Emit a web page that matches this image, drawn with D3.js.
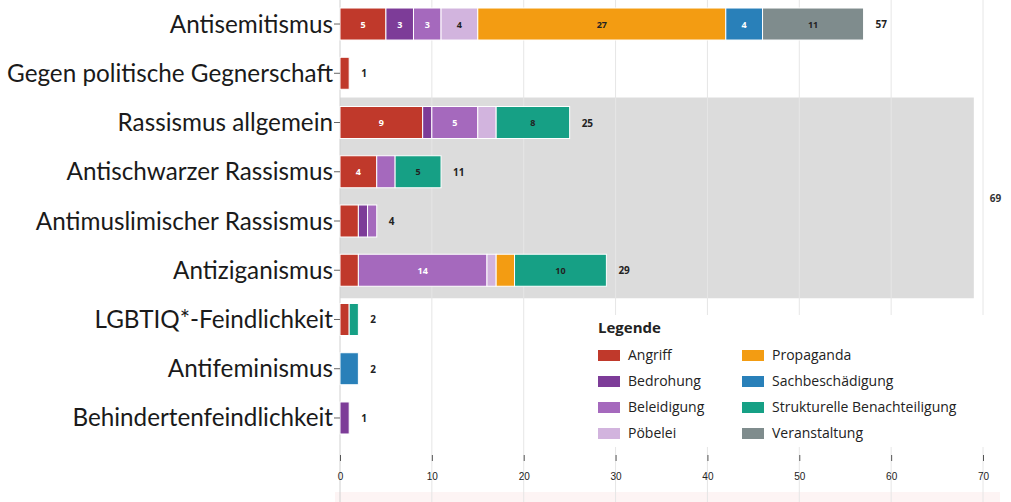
<!DOCTYPE html>
<html>
<head>
<meta charset="utf-8">
<script src="https://cdn.jsdelivr.net/npm/d3@7"></script>
<style>
  body { margin: 0; background: #fff; }
  svg { display: block; font-family: "Open Sans", sans-serif; }
</style>
</head>
<body>
<div id="chart"></div>
<script>
const width = 1011;
const height = 502;

const categories = [
    'Antisemitismus',
    'Gegen politische Gegnerschaft',
    'Rassismus allgemein',
    'Antischwarzer Rassismus',
    'Antimuslimischer Rassismus',
    'Antiziganismus',
    'LGBTIQ*-Feindlichkeit',
    'Antifeminismus',
    'Behindertenfeindlichkeit'
];
const types = ['Angriff', 'Bedrohung', 'Beleidigung', 'Pöbelei',
    'Propaganda', 'Sachbeschädigung', 'Strukturelle Benachteiligung', 'Veranstaltung'];
const colors = ['#c0392b', '#7d3c98', '#a569bd', '#d2b4de',
    '#f39c12', '#2980b9', '#16a085', '#7f8c8d'];

const angriff          = [5, 1, 9, 4, 2, 2, 1, 0, 0];
const bedrohung        = [3, 0, 1, 0, 1, 0, 0, 0, 1];
const beleidigung      = [3, 0, 5, 2, 1, 14, 0, 0, 0];
const poebelei         = [4, 0, 2, 0, 0, 1, 0, 0, 0];
const propaganda       = [27, 0, 0, 0, 0, 2, 0, 0, 0];
const sachbeschaedigung = [4, 0, 0, 0, 0, 0, 0, 2, 0];
const strukturelle     = [0, 0, 8, 5, 0, 10, 1, 0, 0];
const veranstaltung    = [11, 0, 0, 0, 0, 0, 0, 0, 0];

const rassismusGroup = ['Rassismus allgemein', 'Antischwarzer Rassismus',
    'Antimuslimischer Rassismus', 'Antiziganismus'];
const xTicks = [0, 10, 20, 30, 40, 50, 60, 70];

const seriesValues = [angriff, bedrohung, beleidigung, poebelei,
    propaganda, sachbeschaedigung, strukturelle, veranstaltung];

// table: one row per category
const rows = categories.map((c, i) => {
    const r = { category: c };
    types.forEach((t, j) => { r[t] = seriesValues[j][i]; });
    r.total = d3.sum(seriesValues, s => s[i]);
    return r;
});

const x = d3.scaleLinear().domain([0, 70]).range([340, 983]);
const y = d3.scaleBand().domain(categories)
    .range([-0.6, 442.6]).paddingInner(0.35).paddingOuter(0.175);
const color = d3.scaleOrdinal().domain(types).range(colors);

const svg = d3.select('#chart').append('svg')
    .attr('width', width)
    .attr('height', height);

// faint band under the axis
svg.append('rect')
    .attr('x', 335).attr('y', 492)
    .attr('width', 665).attr('height', 10)
    .attr('fill', '#fdf4f4');

// gray group background
const groupTotal = d3.sum(rows.filter(r => rassismusGroup.includes(r.category)), r => r.total);
const gTop = y(rassismusGroup[0]) - 9;
const gBottom = y(rassismusGroup[rassismusGroup.length - 1]) + y.bandwidth() + 12;
svg.append('rect')
    .attr('x', x(0))
    .attr('y', gTop)
    .attr('width', x(groupTotal) - x(0))
    .attr('height', gBottom - gTop)
    .attr('fill', '#dcdcdc');

// grid lines
svg.append('g')
    .selectAll('line')
    .data(xTicks)
    .join('line')
    .attr('x1', d => x(d)).attr('x2', d => x(d))
    .attr('y1', 0).attr('y2', height)
    .attr('stroke', d => d === 0 ? '#d0d0d0' : '#e6e6e6')
    .attr('stroke-width', 1);

svg.append('text')
    .attr('x', x(groupTotal) + 16)
    .attr('y', (gTop + gBottom) / 2 + 4)
    .attr('font-size', 10)
    .attr('font-weight', 'bold')
    .attr('fill', '#333')
    .text(groupTotal);

// stacked bars
const stack = d3.stack().keys(types)(rows);
const layer = svg.append('g')
    .selectAll('g')
    .data(stack)
    .join('g')
    .attr('fill', d => color(d.key));

layer.selectAll('rect')
    .data(d => d.filter(p => p[1] > p[0]))
    .join('rect')
    .attr('x', p => x(p[0]))
    .attr('y', p => y(p.data.category))
    .attr('width', p => x(p[1]) - x(p[0]))
    .attr('height', y.bandwidth())
    .attr('stroke', '#fff')
    .attr('stroke-width', 1);

const darkText = ['Propaganda', 'Strukturelle Benachteiligung', 'Veranstaltung', 'Pöbelei'];
layer.selectAll('text')
    .data(d => d.filter(p => p[1] - p[0] >= 3).map(p => ({ p, key: d.key })))
    .join('text')
    .attr('x', d => (x(d.p[0]) + x(d.p[1])) / 2)
    .attr('y', d => y(d.p.data.category) + y.bandwidth() / 2 + 3.5)
    .attr('text-anchor', 'middle')
    .attr('font-size', 9)
    .attr('font-weight', 'bold')
    .attr('fill', d => darkText.includes(d.key) ? '#222' : '#fff')
    .text(d => d.p[1] - d.p[0]);

// totals
svg.append('g')
    .selectAll('text')
    .data(rows)
    .join('text')
    .attr('x', d => x(d.total) + 12)
    .attr('y', d => y(d.category) + y.bandwidth() / 2 + 4)
    .attr('font-size', 10)
    .attr('font-weight', 'bold')
    .attr('fill', '#222')
    .text(d => d.total);

// category axis
const yAxis = svg.append('g')
    .attr('transform', `translate(${x(0)},0)`)
    .call(d3.axisLeft(y).tickSize(6).tickPadding(1));
yAxis.select('.domain').remove();
yAxis.selectAll('line').attr('stroke', '#666');
yAxis.selectAll('text')
    .attr('font-family', 'Lato, sans-serif')
    .attr('font-size', 25)
    .attr('dy', '0.35em')
    .attr('fill', '#1a1a1a');

// fit the longest label to the width seen in the picture
const longest = yAxis.selectAll('text').filter(d => d === 'Gegen politische Gegnerschaft').node();
const fs = 25 * 326 / longest.getComputedTextLength();
yAxis.selectAll('text').attr('font-size', fs);

// value axis
const xAxis = svg.append('g')
    .attr('transform', 'translate(0,455)')
    .call(d3.axisBottom(x).tickValues(xTicks).tickSize(6).tickPadding(12));
xAxis.select('.domain').remove();
xAxis.selectAll('line').attr('stroke', '#555');
xAxis.selectAll('text')
    .attr('font-size', 10)
    .attr('fill', '#222');

// legend
const legend = svg.append('g').attr('transform', 'translate(590,315)');
legend.append('rect')
    .attr('width', 420).attr('height', 132)
    .attr('fill', '#fff');
legend.append('text')
    .attr('x', 8).attr('y', 18)
    .attr('font-size', 15)
    .attr('font-weight', 'bold')
    .attr('fill', '#222')
    .text('Legende');

const item = legend.selectAll('.item')
    .data(types)
    .join('g')
    .attr('class', 'item')
    .attr('transform', (d, i) => `translate(${i < 4 ? 8 : 152},${43 + (i % 4) * 26})`);
item.append('rect')
    .attr('width', 22).attr('height', 11)
    .attr('y', -8)
    .attr('fill', d => color(d));
item.append('text')
    .attr('x', 30).attr('y', 2)
    .attr('font-size', 14)
    .attr('fill', '#222')
    .text(d => d);
</script>
</body>
</html>
